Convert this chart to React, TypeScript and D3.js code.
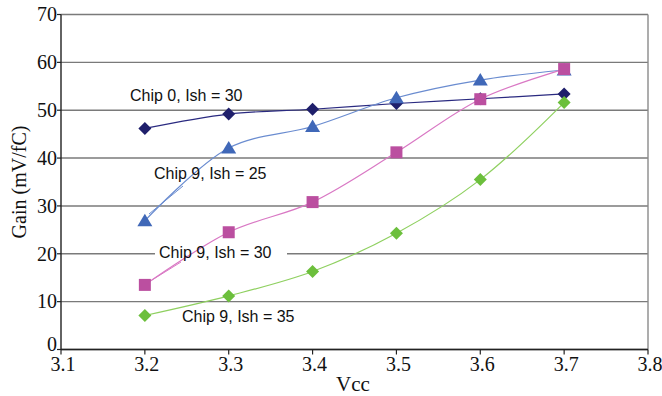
import React from "react";
import * as d3 from "d3";

const vcc = [3.2, 3.3, 3.4, 3.5, 3.6, 3.7];
const chip0Ish30 = [46.2, 49.2, 50.2, 51.4, 52.4, 53.4];
const chip9Ish25 = [26.9, 42.1, 46.6, 52.6, 56.3, 58.4];
const chip9Ish30 = [13.5, 24.5, 30.8, 41.2, 52.3, 58.6];
const chip9Ish35 = [7.1, 11.2, 16.3, 24.3, 35.5, 51.6];
const xTicks = [3.1, 3.2, 3.3, 3.4, 3.5, 3.6, 3.7, 3.8];
const yTicks = [0, 10, 20, 30, 40, 50, 60, 70];

type Series = {
  name: string;
  values: number[];
  marker: "diamond" | "triangle" | "square";
  fill: string;
  line: string;
};

// drawn in this order, later series on top
const series: Series[] = [
  { name: "Chip 0, Ish = 30", values: chip0Ish30, marker: "diamond", fill: "#1f1f6b", line: "#2a2a80" },
  { name: "Chip 9, Ish = 25", values: chip9Ish25, marker: "triangle", fill: "#4068b8", line: "#6a8cd0" },
  { name: "Chip 9, Ish = 30", values: chip9Ish30, marker: "square", fill: "#bb4fa0", line: "#d978c4" },
  { name: "Chip 9, Ish = 35", values: chip9Ish35, marker: "diamond", fill: "#6cbf3c", line: "#8fd060" },
];

const W = 662;
const H = 396;
const left = 61;
const right = 648;
const top = 14.5;
const bottom = 349.5;

export default function App() {
  const x = d3.scaleLinear().domain([3.1, 3.8]).range([left, right]);
  const y = d3.scaleLinear().domain([0, 70]).range([bottom, top]);
  const line = d3
    .line<[number, number]>()
    .x((d) => x(d[0]))
    .y((d) => y(d[1]))
    .curve(d3.curveCatmullRom.alpha(0.5));

  const markerPath = (kind: Series["marker"]) => {
    if (kind === "diamond") return "M0,-6.5L6.5,0L0,6.5L-6.5,0Z";
    if (kind === "square") return "M-6,-6H6V6H-6Z";
    return "M0,-7L7.5,5.5H-7.5Z";
  };

  const labelFont = "'Liberation Sans', Arial, sans-serif";
  const tickFont = "'Liberation Serif', 'Times New Roman', serif";

  return (
    <svg width={W} height={H} style={{ position: "absolute", left: 0, top: 0, background: "#fff" }}>
      {/* horizontal gridlines */}
      {yTicks.map((t) => (
        <line key={"g" + t} x1={left} x2={right} y1={y(t)} y2={y(t)} stroke="#7a7a7a" strokeWidth={1.4} />
      ))}
      {/* right border */}
      <line x1={right} x2={right} y1={top} y2={bottom} stroke="#8a8a8a" strokeWidth={1.4} />

      {/* label box that interrupts a gridline */}
      <rect x={155} y={243} width={132} height={19} fill="#fff" />

      {/* axes */}
      <line x1={left} x2={left} y1={top} y2={bottom} stroke="#222" strokeWidth={1.4} />
      <line x1={left} x2={right} y1={bottom} y2={bottom} stroke="#222" strokeWidth={1.4} />
      {yTicks.map((t) => (
        <line key={"yt" + t} x1={left - 4} x2={left} y1={y(t)} y2={y(t)} stroke="#222" strokeWidth={1.2} />
      ))}
      {xTicks.map((t) => (
        <line key={"xt" + t} x1={x(t)} x2={x(t)} y1={bottom} y2={bottom + 5} stroke="#222" strokeWidth={1.2} />
      ))}
      {yTicks.map((t) => (
        <text
          key={"yl" + t}
          x={left - 4}
          y={y(t) - (t === 0 ? 5 : 0)}
          dy="0.34em"
          textAnchor="end"
          fontFamily={tickFont}
          fontSize={20}
          fill="#111"
        >
          {t}
        </text>
      ))}
      {xTicks.map((t) => (
        <text key={"xl" + t} x={x(t) + 2} y={bottom + 21} textAnchor="middle" fontFamily={tickFont} fontSize={20} fill="#111">
          {t.toFixed(1)}
        </text>
      ))}
      <text x={353} y={391} textAnchor="middle" fontFamily={tickFont} fontSize={21} fill="#111">
        Vcc
      </text>
      <text
        transform={`translate(26,${(top + bottom) / 2}) rotate(-90)`}
        textAnchor="middle"
        fontFamily={tickFont}
        fontSize={20}
        fill="#111"
      >
        Gain (mV/fC)
      </text>

      {/* leader lines */}
      <line x1={183} y1={186} x2={149} y2={214} stroke="#6a8cd0" strokeWidth={1} />
      <line x1={181} y1={262} x2={152} y2={280} stroke="#d978c4" strokeWidth={1} />

      {/* series */}
      {series.map((s) => {
        const pts = vcc.map((v, i) => [v, s.values[i]] as [number, number]);
        return (
          <g key={s.name}>
            <path d={line(pts) ?? ""} fill="none" stroke={s.line} strokeWidth={1.2} />
            {pts.map((p, i) => (
              <path key={i} d={markerPath(s.marker)} transform={`translate(${x(p[0])},${y(p[1])})`} fill={s.fill} />
            ))}
          </g>
        );
      })}

      {/* data labels */}
      <text x={130} y={101} fontFamily={labelFont} fontSize={16} fill="#111">Chip 0, Ish = 30</text>
      <text x={154} y={179} fontFamily={labelFont} fontSize={16} fill="#111">Chip 9, Ish = 25</text>
      <text x={159} y={258} fontFamily={labelFont} fontSize={16} fill="#111">Chip 9, Ish = 30</text>
      <text x={182} y={322} fontFamily={labelFont} fontSize={16} fill="#111">Chip 9, Ish = 35</text>
    </svg>
  );
}
